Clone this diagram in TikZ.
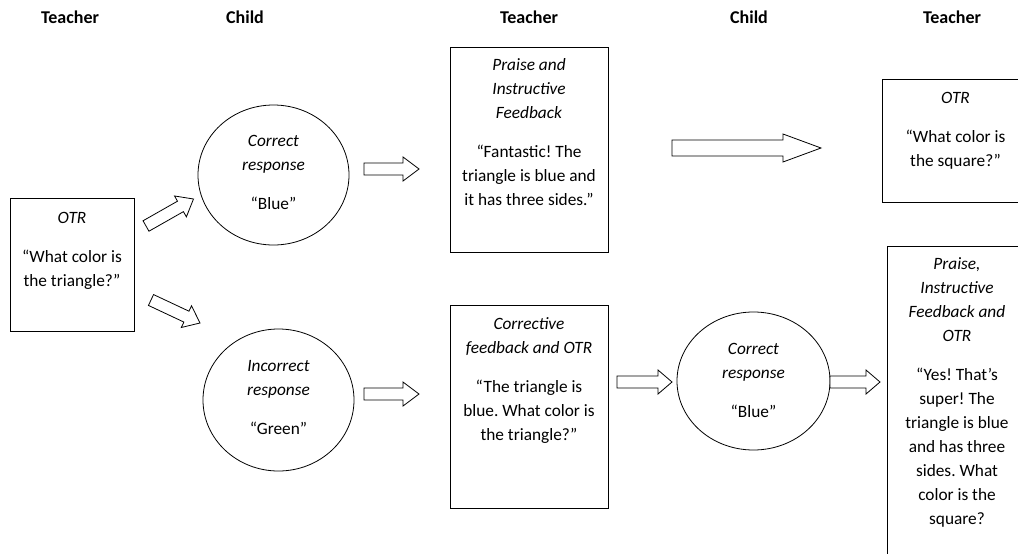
\documentclass[tikz,border=0pt]{standalone}
\usepackage{fontspec}
\setmainfont{Carlito}
\usetikzlibrary{calc,shapes.geometric}
\tikzset{
  box/.style={draw, line width=0.8pt, rectangle, inner sep=0pt},
  oval/.style={draw, line width=0.8pt, ellipse, inner sep=0pt},
  txt/.style={align=center, inner sep=0pt, anchor=north, font=\fontsize{17.3}{24}\selectfont\frenchspacing},
  hdr/.style={inner sep=0pt, font=\fontsize{18}{20}\selectfont\bfseries},
  blk/.style={draw, line width=0.8pt, fill=white, line join=miter},
}
\newcommand\blkarrow[5]{% tail, tip, half body, half head, head length
  \path ($(#2)!#5!(#1)$) coordinate (hb-#1);
  \draw[blk] ($(#1)!#3!-90:(#2)$) -- ($(hb-#1)!#3!-90:(#2)$) -- ($(hb-#1)!#4!-90:(#2)$) -- (#2)
    -- ($(hb-#1)!#4!90:(#2)$) -- ($(hb-#1)!#3!90:(#2)$) -- ($(#1)!#3!90:(#2)$) -- cycle;}
\begin{document}
\frenchspacing
\begin{tikzpicture}[x=1pt,y=-1pt]
\useasboundingbox (0,0) rectangle (1018,554);
\clip (0,0) rectangle (1018,554);
% headers
\node[hdr] (h1) at (70,17) {Teacher};
\node[hdr] (h2) at (245,17) {Child};
\node[hdr] (h3) at (529,17) {Teacher};
\node[hdr] (h4) at (749,17) {Child};
\node[hdr] (h5) at (952,17) {Teacher};
% shapes
\node[box, minimum width=124pt, minimum height=133pt] (b1) at (72,264.5) {};
\node[oval, minimum width=151pt, minimum height=140pt] (c1) at (273.5,175) {};
\node[box, minimum width=158pt, minimum height=205pt] (b2) at (529,149.5) {};
\node[box, minimum width=147pt, minimum height=123pt] (b3) at (955.5,140.5) {};
\node[oval, minimum width=151pt, minimum height=142pt] (c2) at (278.5,400) {};
\node[box, minimum width=158pt, minimum height=203pt] (b4) at (529,406.5) {};
\node[oval, minimum width=153pt, minimum height=138pt] (c3) at (753.5,381) {};
\node[box, minimum width=140pt, minimum height=316pt] (b5) at (957,404) {};
% texts
\node[txt] (t1) at (72,206.7) {\strut\textit{OTR}\\[15pt]“What color is\\the triangle?”};
\node[txt] (t2) at (273.5,129.7) {\strut\textit{Correct}\\\textit{response}\\[15pt]“Blue”};
\node[txt] (t3) at (529,53.7) {\strut\textit{Praise and}\\\textit{Instructive}\\\textit{Feedback}\\[15pt]“Fantastic! The\\triangle is blue and\\it has three sides.”};
\node[txt] (t4) at (955.5,86.7) {\strut\textit{OTR}\\[15pt]“What color is\\the square?”};
\node[txt] (t5) at (278.5,354.7) {\strut\textit{Incorrect}\\\textit{response}\\[15pt]“Green”};
\node[txt] (t6) at (529,312.7) {\strut\textit{Corrective}\\\textit{feedback and OTR}\\[15pt]“The triangle is\\blue. What color is\\the triangle?”};
\node[txt] (t7) at (753.5,337.7) {\strut\textit{Correct}\\\textit{response}\\[15pt]“Blue”};
\node[txt] (t8) at (957,252.7) {\strut\textit{Praise,}\\\textit{Instructive}\\\textit{Feedback and}\\\textit{OTR}\\[15pt]“Yes! That’s\\super! The\\triangle is blue\\and has three\\sides. What\\color is the\\square?};
% arrow end points
\coordinate (a1s) at (146,226);  \coordinate (a1e) at (193.5,199);
\coordinate (a2s) at (151,300);  \coordinate (a2e) at (200,323);
\coordinate (a3s) at (364,169);  \coordinate (a3e) at (419,169);
\coordinate (a4s) at (672,148);  \coordinate (a4e) at (821,148);
\coordinate (a5s) at (364,394);  \coordinate (a5e) at (419,394);
\coordinate (a6s) at (617,382);  \coordinate (a6e) at (672,382);
\coordinate (a7s) at (830,382);  \coordinate (a7e) at (880,382);
\blkarrow{a1s}{a1e}{6pt}{12pt}{15pt}
\blkarrow{a2s}{a2e}{6pt}{12pt}{15pt}
\blkarrow{a3s}{a3e}{6pt}{12pt}{16pt}
\blkarrow{a4s}{a4e}{8pt}{14pt}{38pt}
\blkarrow{a5s}{a5e}{6pt}{12pt}{16pt}
\blkarrow{a6s}{a6e}{6pt}{12pt}{14pt}
\blkarrow{a7s}{a7e}{6pt}{12pt}{14pt}
\end{tikzpicture}
\end{document}
